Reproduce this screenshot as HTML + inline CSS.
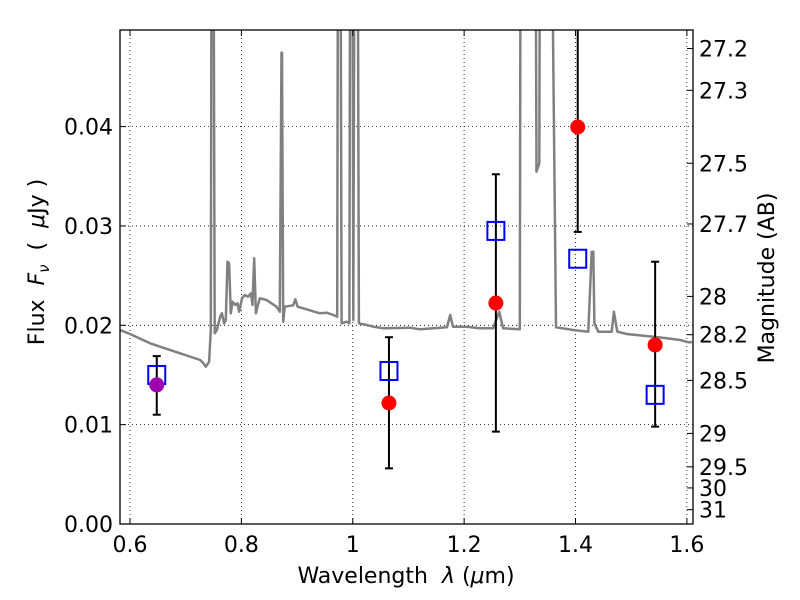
<!DOCTYPE html>
<html><head><meta charset="utf-8">
<style>
html,body{margin:0;padding:0;background:#fff;}
svg{display:block;font-family:"DejaVu Sans","Liberation Sans",sans-serif;}
</style></head>
<body>
<svg id="chart" width="800" height="600" viewBox="0 0 800 600" xmlns="http://www.w3.org/2000/svg">
<rect x="0" y="0" width="800" height="600" fill="#fff"/>
<g id="grid"></g>
<g id="spec"></g>
<g id="pts"></g>
<g id="axes"></g>
<text x="406" y="583" font-size="22" text-anchor="middle">Wavelength&#160;&#160;<tspan font-style="italic">λ</tspan>&#160;(<tspan font-style="italic">μ</tspan>m)</text>
<text transform="translate(44,262) rotate(-90)" font-size="22" text-anchor="middle">Flux&#160;&#160;<tspan font-style="italic">F</tspan><tspan font-style="italic" font-size="15" dy="5">ν</tspan><tspan dy="-5">&#160;&#160;(&#160;&#160;<tspan font-style="italic">μ</tspan>Jy&#160;)</tspan></text>
<text transform="translate(774,278) rotate(-90)" font-size="22" text-anchor="middle">Magnitude (AB)</text>
</svg>
<script>
const specLam=[0.582,0.600,0.636,0.654,0.690,0.726,0.732,0.736,0.742,0.745,0.747,0.749,0.752,0.756,0.762,0.765,0.769,0.772,0.775,0.778,0.781,0.784,0.789,0.793,0.796,0.801,0.806,0.812,0.817,0.820,0.823,0.826,0.829,0.833,0.845,0.863,0.869,0.872,0.873,0.875,0.878,0.893,0.897,0.901,0.917,0.941,0.953,0.965,0.972,0.974,0.977,0.980,0.989,0.994,0.996,0.999,1.001,1.004,1.008,1.011,1.025,1.037,1.055,1.103,1.121,1.169,1.175,1.180,1.205,1.228,1.252,1.263,1.270,1.300,1.302,1.327,1.330,1.335,1.337,1.354,1.365,1.396,1.423,1.429,1.432,1.434,1.441,1.465,1.469,1.475,1.492,1.540,1.564,1.588,1.603,1.609];
const specFlux=[0.01953,0.01912,0.01819,0.01785,0.01718,0.01651,0.01617,0.01583,0.01634,0.01953,0.08,0.08,0.01919,0.01953,0.02087,0.02121,0.02020,0.02053,0.02640,0.02624,0.02121,0.02238,0.02204,0.02221,0.02137,0.02272,0.02305,0.02288,0.02322,0.02204,0.02674,0.02121,0.02187,0.02272,0.02255,0.02187,0.02137,0.04744,0.04744,0.02036,0.02187,0.02201,0.02262,0.02187,0.02161,0.02121,0.02127,0.02104,0.02087,0.08,0.08,0.02020,0.02036,0.02020,0.08,0.08,0.02053,0.08,0.08,0.02020,0.02003,0.01986,0.01970,0.01976,0.01960,0.01980,0.02104,0.01986,0.01986,0.01970,0.01970,0.02137,0.01970,0.01960,0.08,0.08,0.03546,0.03630,0.08,0.08,0.01980,0.01953,0.01936,0.02741,0.02741,0.02020,0.01936,0.01936,0.02137,0.01936,0.01912,0.01885,0.01869,0.01852,0.01829,0.01829];
const bandLam=[0.648,1.065,1.257,1.404,1.543];
const obsFlux=[0.0140,0.01218,0.02224,0.03996,0.01802];
const errHi=[0.0169,0.0188,0.0352,0.0600,0.0264];
const errLo=[0.0110,0.0056,0.0093,0.0294,0.0098];
const modelFlux=[0.0150,0.0154,0.0295,0.0267,0.0130];
const xTicks=[0.6,0.8,1.0,1.2,1.4,1.6];
const xTickLabels=["0.6","0.8","1","1.2","1.4","1.6"];
const yTicks=[0,0.01,0.02,0.03,0.04];
const yTickLabels=["0.00","0.01","0.02","0.03","0.04"];
const magTicks=[27.2,27.3,27.5,27.7,28,28.2,28.5,29,29.5,30,31];
const magTickLabels=["27.2","27.3","27.5","27.7","28","28.2","28.5","29","29.5","30","31"];

const L=120,R=693,T=30,B=524;
const xmin=0.582,xmax=1.611,ymin=0,ymax=(B-T)/9935;
const X=v=>L+(v-xmin)/(xmax-xmin)*(R-L);
const Y=v=>B-(v-ymin)/(ymax-ymin)*(B-T);
const NS="http://www.w3.org/2000/svg";
function mk(parent,tag,attrs){const e=document.createElementNS(NS,tag);for(const k in attrs)e.setAttribute(k,attrs[k]);parent.appendChild(e);return e;}
const grid=document.getElementById('grid'),spec=document.getElementById('spec'),pts=document.getElementById('pts'),axes=document.getElementById('axes');

xTicks.forEach((t,i)=>{
  const g=mk(grid,'line',{x1:X(t),x2:X(t),y1:T,y2:B,stroke:'#000','stroke-width':0.8,'stroke-dasharray':'1,3'});
  
  
  const tk=mk(axes,'line',{x1:X(t),x2:X(t),y1:B,y2:B-6,stroke:'#000','stroke-width':1});
  
  
  const tk2=mk(axes,'line',{x1:X(t),x2:X(t),y1:T,y2:T+6,stroke:'#000','stroke-width':1});
  
  
  const lb=mk(axes,'text',{x:X(t),y:B+28,'font-size':22,'text-anchor':'middle'});
  lb.textContent=xTickLabels[i];
  
  
});
yTicks.forEach((t,i)=>{
  const g=mk(grid,'line',{x1:L,x2:R,y1:Y(t),y2:Y(t),stroke:'#000','stroke-width':0.8,'stroke-dasharray':'1,3'});
  
  
  const tk=mk(axes,'line',{x1:L,x2:L+6,y1:Y(t),y2:Y(t),stroke:'#000','stroke-width':1});
  
  
  const lb=mk(axes,'text',{x:L-7,y:Y(t)+8,'font-size':22,'text-anchor':'end'});
  lb.textContent=yTickLabels[i];
  
  
});
magTicks.forEach((m,i)=>{
  const f=Math.pow(10,(23.9-m)/2.5);
  const yy=Y(f);
  const tk=mk(axes,'line',{x1:R,x2:R-6,y1:yy,y2:yy,stroke:'#000','stroke-width':1});
  
  
  const lb=mk(axes,'text',{x:R+6,y:yy+8,'font-size':22,'text-anchor':'start'});
  lb.textContent=magTickLabels[i];
  
  
});

const clip=mk(document.getElementById('chart'),'clipPath',{id:'plotclip'});
mk(clip,'rect',{x:L,y:T,width:R-L,height:B-T});
spec.setAttribute('clip-path','url(#plotclip)');
pts.setAttribute('clip-path','url(#plotclip)');
const d=specLam.map((l,i)=>(i?'L':'M')+X(l).toFixed(1)+','+Y(specFlux[i]).toFixed(1)).join('');
const sp=mk(spec,'path',{d:d,fill:'none',stroke:'#808080','stroke-width':2.5,'stroke-linejoin':'round'});



bandLam.forEach((l,i)=>{
  const x=X(l);
  const eb=mk(pts,'line',{x1:x,x2:x,y1:Y(errHi[i]),y2:Y(errLo[i]),stroke:'#000','stroke-width':2});
  
  
  [errHi[i],errLo[i]].forEach(v=>{
    const c=mk(pts,'line',{x1:x-4,x2:x+4,y1:Y(v),y2:Y(v),stroke:'#000','stroke-width':2});
    
    
  });
  const sq=mk(pts,'rect',{x:x-8.5,y:Y(modelFlux[i])-9,width:17,height:18,fill:'none',stroke:'#0000ff','stroke-width':2});
  
  
  const c=mk(pts,'circle',{cx:x,cy:Y(obsFlux[i]),r:7.5,fill:i===0?'#a000b0':'#ff0000'});
  
  
});
const frame=mk(axes,'rect',{x:L,y:T,width:R-L,height:B-T,fill:'none',stroke:'#000','stroke-width':1.3});


</script>
</body></html>
